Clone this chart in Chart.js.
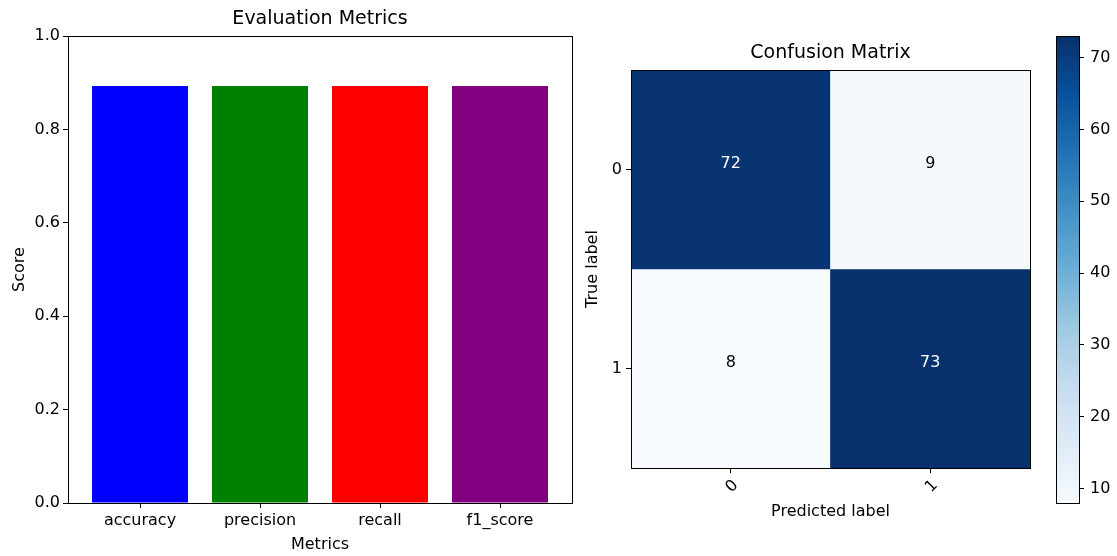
<!DOCTYPE html>
<html>
<head>
<meta charset="utf-8">
<title>Evaluation Metrics and Confusion Matrix</title>
<script src="https://cdn.jsdelivr.net/npm/chart.js@4.4.1/dist/chart.umd.min.js"></script>
<style>
  html, body { margin: 0; padding: 0; background: #fff; }
  #wrap { position: relative; width: 1117px; height: 556px; overflow: hidden; }
  canvas { position: absolute; top: 0; }
  #metrics { left: 0; }
  #matrix { left: 580px; }
  #cbar { left: 1040px; }
</style>
</head>
<body>
<div id="wrap">
  <canvas id="metrics" width="580" height="556"></canvas>
  <canvas id="matrix" width="460" height="556"></canvas>
  <canvas id="cbar" width="77" height="556"></canvas>
</div>
<script>
// data
const metricNames = ['accuracy', 'precision', 'recall', 'f1_score'];
const metricScores = [0.893, 0.893, 0.893, 0.893];
const metricColors = ['blue', 'green', 'red', 'purple'];
const scoreTicks = [0, 0.2, 0.4, 0.6, 0.8, 1.0];

const classLabels = ['0', '1'];
const cmValues = [
  [72, 9],
  [8, 73]
];
const colorbarTicks = [10, 20, 30, 40, 50, 60, 70];

const vmin = Math.min(...cmValues.flat());
const vmax = Math.max(...cmValues.flat());

Chart.defaults.font.family = "'DejaVu Sans', sans-serif";
Chart.defaults.font.size = 16;
Chart.defaults.color = '#000';
Chart.defaults.animation = false;
Chart.defaults.plugins.legend.display = false;
Chart.defaults.plugins.tooltip.enabled = false;

// matplotlib "Blues"
const bluesStops = ['#f7fbff', '#deebf7', '#c6dbef', '#9ecae1', '#6baed6', '#4292c6', '#2171b5', '#08519c', '#08306b'];
function hexRgb(h) {
  return [1, 3, 5].map(i => parseInt(h.substr(i, 2), 16));
}
function blues(t) {
  t = Math.max(0, Math.min(1, t));
  const pos = t * (bluesStops.length - 1);
  const i = Math.min(Math.floor(pos), bluesStops.length - 2);
  const f = pos - i;
  const a = hexRgb(bluesStops[i]), b = hexRgb(bluesStops[i + 1]);
  const c = a.map((v, k) => Math.round(v + (b[k] - v) * f));
  return 'rgb(' + c.join(',') + ')';
}

// box around the plot area like matplotlib spines
const frame = {
  id: 'frame',
  afterDraw(chart) {
    const { ctx, chartArea: a } = chart;
    ctx.save();
    ctx.strokeStyle = '#000';
    ctx.lineWidth = 1;
    ctx.strokeRect(Math.round(a.left) + 0.5, Math.round(a.top) + 0.5,
      Math.round(a.right - a.left), Math.round(a.bottom - a.top));
    ctx.restore();
  }
};

const tickGrid = { drawOnChartArea: false, drawTicks: true, tickLength: 5, color: '#000', offset: false };
const titleFont = { size: 19, weight: 'normal' };

// ---- left: evaluation metrics ----
new Chart(document.getElementById('metrics'), {
  type: 'bar',
  data: {
    datasets: [{
      data: metricNames.map((n, i) => ({ x: i, y: metricScores[i] })),
      backgroundColor: metricColors,
      borderWidth: 0,
      barPercentage: 0.8,
      categoryPercentage: 1
    }]
  },
  options: {
    responsive: false,
    devicePixelRatio: 1,
    layout: { padding: { right: 8 } },
    plugins: {
      title: {
        display: true, text: 'Evaluation Metrics', color: '#000',
        font: titleFont, fullSize: false,
        padding: { top: 7.6, bottom: 5.6 }
      }
    },
    scales: {
      x: {
        type: 'linear', min: -0.6, max: 3.6, offset: false,
        grid: tickGrid,
        border: { color: '#000' },
        afterBuildTicks: s => { s.ticks = metricNames.map((n, i) => ({ value: i })); },
        afterFit: s => { s.height = 53; },
        ticks: { autoSkip: false, maxRotation: 0, padding: 3, callback: v => metricNames[v] },
        title: { display: true, text: 'Metrics', padding: { top: 0, bottom: 2 } }
      },
      y: {
        min: 0, max: 1,
        grid: tickGrid,
        border: { color: '#000' },
        afterBuildTicks: s => { s.ticks = scoreTicks.map(v => ({ value: v })); },
        afterFit: s => { s.width = 68; },
        ticks: { padding: 3, callback: v => v.toFixed(1) },
        title: { display: true, text: 'Score', padding: { top: 10, bottom: 0 } }
      }
    }
  },
  plugins: [frame]
});

// ---- middle: confusion matrix ----
const cellText = {
  id: 'cellText',
  afterDatasetsDraw(chart) {
    const { ctx, scales } = chart;
    ctx.save();
    ctx.font = "16px 'DejaVu Sans', sans-serif";
    ctx.textAlign = 'center';
    ctx.textBaseline = 'middle';
    cmValues.forEach((row, r) => {
      row.forEach((v, c) => {
        ctx.fillStyle = v > vmax / 2 ? '#fff' : '#000';
        ctx.fillText(String(v), scales.x.getPixelForValue(c), scales.y.getPixelForValue(r) - 6);
      });
    });
    ctx.restore();
  }
};

new Chart(document.getElementById('matrix'), {
  type: 'bar',
  data: {
    datasets: cmValues.map((row, r) => ({
      data: row.map((v, c) => ({ x: c, y: [r - 0.5, r + 0.5] })),
      backgroundColor: row.map(v => blues((v - vmin) / (vmax - vmin))),
      borderWidth: 0,
      borderSkipped: false,
      barPercentage: 1,
      categoryPercentage: 1,
      grouped: false
    }))
  },
  options: {
    responsive: false,
    devicePixelRatio: 1,
    layout: { padding: { right: 10 } },
    plugins: {
      title: {
        display: true, text: 'Confusion Matrix', color: '#000',
        font: titleFont, fullSize: false,
        padding: { top: 41.6, bottom: 5.6 }
      }
    },
    scales: {
      x: {
        type: 'linear', min: -0.5, max: 1.5, offset: false,
        grid: tickGrid,
        border: { color: '#000' },
        afterBuildTicks: s => { s.ticks = classLabels.map((n, i) => ({ value: i })); },
        afterFit: s => { s.height = 88; },
        ticks: { autoSkip: false, minRotation: 45, maxRotation: 45, padding: 3, labelOffset: 5,
          callback: v => classLabels[v] },
        title: { display: true, text: 'Predicted label', padding: { top: 0, bottom: 35 } }
      },
      y: {
        type: 'linear', min: -0.5, max: 1.5, reverse: true,
        grid: tickGrid,
        border: { color: '#000' },
        afterBuildTicks: s => { s.ticks = classLabels.map((n, i) => ({ value: i })); },
        afterFit: s => { s.width = 51; },
        ticks: { padding: 4, callback: v => classLabels[v] },
        title: { display: true, text: 'True label', padding: { top: 3, bottom: 0 } }
      }
    }
  },
  plugins: [cellText, frame]
});

// ---- right: colorbar ----
new Chart(document.getElementById('cbar'), {
  type: 'bar',
  data: {
    labels: ['scale'],
    datasets: [{
      data: [[vmin, vmax]],
      borderWidth: 0,
      borderSkipped: false,
      barPercentage: 1,
      categoryPercentage: 1,
      backgroundColor: ctx => {
        const { chart } = ctx;
        if (!chart.chartArea) return bluesStops[4];
        const y = chart.scales.y;
        const g = chart.ctx.createLinearGradient(0, y.getPixelForValue(vmin), 0, y.getPixelForValue(vmax));
        bluesStops.forEach((c, i) => g.addColorStop(i / (bluesStops.length - 1), c));
        return g;
      }
    }]
  },
  options: {
    responsive: false,
    devicePixelRatio: 1,
    layout: { padding: { left: 16, top: 36, bottom: 53 } },
    scales: {
      x: { display: false },
      y: {
        position: 'right', min: vmin, max: vmax,
        grid: tickGrid,
        border: { color: '#000' },
        afterBuildTicks: s => { s.ticks = colorbarTicks.map(v => ({ value: v })); },
        afterFit: s => { s.width = 38; },
        ticks: { padding: 6 }
      }
    }
  },
  plugins: [frame]
});
</script>
</body>
</html>
